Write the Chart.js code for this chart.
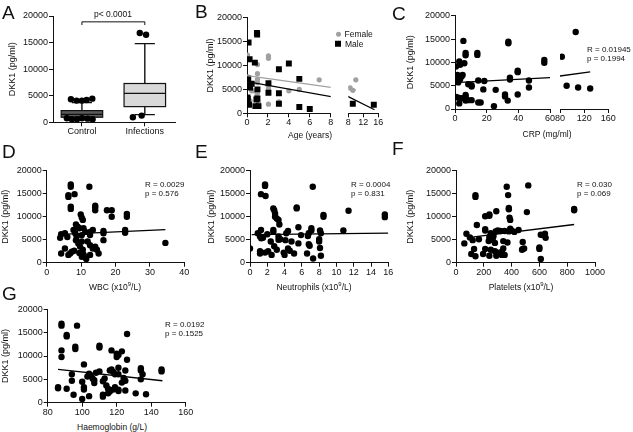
<!DOCTYPE html>
<html>
<head>
<meta charset="utf-8">
<script src="https://cdn.jsdelivr.net/npm/chart.js@4.4.1/dist/chart.umd.min.js"></script>
<style>
  body { margin: 0; background: #fff; width: 633px; height: 432px; position: relative; overflow: hidden;
         font-family: "Liberation Sans", Arial, Helvetica, sans-serif; color: #111; }
  canvas { position: absolute; }
  .t { position: absolute; white-space: nowrap; line-height: 1; z-index: 2; color: #111; }
  .t sup { font-size: 70%; line-height: 0; }
  .mk { display: inline-block; vertical-align: middle; margin-right: 4px; }
</style>
</head>
<body>
<script>
// ---- A: DKK1 by group (box plot)
const aCategories = ['Control', 'Infections'];
const aQ1 = [950, 2950];
const aMedian = [1500, 5450];
const aQ3 = [2200, 7300];
const aWhiskerLow = [450, 1450];
const aWhiskerHigh = [3700, 14800];
const aOutlierX = [0.825, 0.915, 1.0, 1.075, 1.165, 0.76, 0.84, 0.92, 1.0, 1.09, 1.17, 1.92, 2.02, 1.81, 1.95];
const aOutlierY = [4330, 4080, 4080, 4200, 4450, 750, 560, 560, 750, 690, 560, 16800, 16480, 940, 1260];
const aBracketY = [18300, 18900];
const aPValue = 'p< 0.0001';

// ---- B: age (years) vs DKK1
const bFemaleAge = [0.05, 2.05, 2.05, 1.0, 1.0, 0.1, 1.0, 6.9, 1.0, 2.05, 5.0, 0.45, 0.7, 4.0, 1.0, 0.9, 0.05, 2.05, 3.05, 0.3, 1.1, 10, 9.2, 8.5];
const bFemaleDkk = [12200, 12000, 11500, 10200, 8300, 7600, 7100, 7000, 6400, 5200, 5000, 4700, 4700, 4700, 4200, 3500, 3000, 1900, 2400, 2600, 2200, 7000, 4800, 5300];
const bMaleAge = [0.15, 0.95, 0.97, 0.25, 0.75, 4.0, 3.05, 5.0, 0.12, 0.1, 0.45, 0.02, 2.05, 0.3, 1.0, 2.05, 3.05, 0.05, 0.07, 0.9, 1.0, 0.2, 0.8, 1.1, 3.05, 5.0, 6.0, 9.2, 14.8];
const bMaleDkk = [14800, 16800, 16500, 11300, 10600, 10400, 9200, 7200, 7300, 6400, 6200, 5900, 6300, 5400, 5000, 4300, 4200, 3300, 3000, 2900, 3100, 1800, 1500, 1500, 2000, 1300, 900, 2000, 1800];
const bFemaleFit = [[0, 7870], [10, 4830]];
const bMaleFit = [[0, 6620], [15, 740]];

// ---- C: CRP vs DKK1
const crpPoints = [[5.3, 14600], [33.7, 14400], [33.7, 14100], [14.1, 12000], [14.1, 11600], [6.7, 12000], [6.7, 11500],
  [2.7, 10200], [3.2, 9500], [0.6, 9100], [5.9, 9800], [56.4, 10500], [56.4, 9900], [39.6, 8200], [39.6, 7900],
  [1, 7000], [1.7, 6600], [0.5, 6300], [3.2, 6400], [4.2, 7000], [4.8, 7300], [2.5, 7100], [1.5, 7300], [0.3, 5900], [2, 5700],
  [34.7, 6700], [34.7, 6300], [14.7, 6100], [18.5, 6000], [46.7, 6100], [8.4, 5300], [10.5, 5100], [10.5, 4800],
  [17.9, 4200], [25.7, 4100], [46.7, 4600], [31.6, 3100], [31.6, 2700], [39.6, 3100], [6.7, 3000], [6.7, 2600],
  [0.6, 2600], [2.1, 2400], [4.2, 2300], [8.4, 1900], [10.5, 1900], [14.7, 1400], [16.2, 1400], [2.7, 1200],
  [6.7, 1800], [33.3, 1800], [24.6, 600],
  [83, 11200], [106, 16500], [91, 5000], [110, 4600], [130, 4400]];
const crpFit = [[0, 5640], [130, 7960]];
const crpStats = ['R = 0.01945', 'p = 0.1994'];

// ---- D: WBC vs DKK1
const wbcPoints = [[7, 17000], [7, 16500], [6.3, 14700], [6.3, 14300], [8.1, 14900], [12.4, 16500], [7, 12200], [7, 11700],
  [14.1, 12400], [14.1, 12000], [14.1, 11400], [17.5, 11400], [18.9, 11400], [18.9, 10000], [23.3, 10600], [23.3, 10000],
  [9.9, 10500], [10.2, 9800], [10.5, 9300], [8.5, 8300], [9, 7800], [9.5, 7500], [5.3, 6400], [4.2, 6200], [3.9, 5400],
  [7.8, 7100], [8.3, 6400], [10.7, 7500], [11.2, 6700], [10.2, 6000], [8.7, 5700], [12.6, 6700], [12.6, 6000], [13.4, 7100],
  [16.5, 6900], [16.5, 6400], [22.8, 7100], [22.8, 6500], [34.5, 4300], [5.3, 3100], [4.2, 2000], [6.3, 1700], [6.8, 2000],
  [7.3, 2400], [8.5, 4900], [9.2, 4200], [9.7, 3500], [10.2, 4600], [10.5, 2800], [10.7, 1800], [11.2, 1200], [10.2, 1300],
  [12.6, 1700], [13.4, 3100], [14.1, 3500], [14.6, 2800], [15.1, 2000], [16.5, 4900], [12.6, 3800], [11.9, 4600],
  [9.5, 2100], [8, 2600], [11.5, 800], [6, 5600]];
const wbcFit = [[4.2, 6150], [34.5, 7200]];
const wbcStats = ['R = 0.0029', 'p = 0.576'];

// ---- E: neutrophils vs DKK1
const neutPoints = [[1.74, 17000], [1.74, 16700], [1.27, 14900], [1.8, 14500], [7.26, 16500], [2.7, 11800], [2.8, 11400],
  [2.9, 10700], [5.4, 12000], [5.4, 11800], [2.9, 10000], [3.1, 9600], [3.3, 9300], [3.4, 8300], [8.5, 10400], [8.5, 10000],
  [11.4, 11300], [15.6, 10500], [15.6, 9900], [10.8, 7000], [7.1, 7500], [7.1, 7000], [5.6, 7700], [1.27, 7100], [0.9, 6400],
  [2.7, 7100], [2.7, 6700], [4.4, 6900], [4.2, 6400], [8.1, 7000], [8.2, 6400], [6.7, 5800], [6.8, 6400], [5.9, 6000],
  [1.16, 5700], [1.5, 5400], [2.0, 6200], [3.3, 5700], [3.5, 5100], [4.1, 4900], [4.8, 4600], [2.4, 4600], [0, 3100],
  [2.8, 3600], [5.6, 4200], [8.0, 5100], [8.0, 4600], [6.8, 4000], [1.16, 2500], [1.16, 2000], [1.74, 2200], [2.1, 2500],
  [2.5, 1700], [3.1, 2800], [3.9, 2200], [4.0, 1700], [4.4, 3100], [5.1, 2000], [6.6, 2000], [6.9, 3700], [8.1, 3200],
  [8.2, 1500], [7.3, 900], [3.3, 5000], [4.6, 2600], [1.3, 5300]];
const neutFit = [[0.2, 6100], [16, 6450]];
const neutStats = ['R = 0.0004', 'p = 0.831'];

// ---- F: platelets vs DKK1
const pltPoints = [[140, 14700], [140, 14300], [365, 16500], [520, 16800], [375, 14700], [380, 11900], [380, 11600],
  [850, 11700], [850, 11400], [510, 11000], [290, 11200], [210, 10100], [240, 10200], [240, 10500], [385, 9800], [390, 9300],
  [150, 8200], [210, 7300], [210, 7000], [75, 6300], [100, 5500], [120, 4900], [60, 4200], [165, 5100], [250, 6400],
  [260, 6000], [245, 5700], [265, 5300], [240, 5500], [270, 5800], [255, 5000], [235, 4700], [280, 4300], [300, 7000],
  [320, 6900], [285, 6800], [350, 6900], [390, 7400], [400, 7000], [420, 6700], [380, 6800], [450, 7100], [340, 4700],
  [370, 4400], [130, 3000], [110, 1900], [140, 1400], [195, 1900], [210, 3000], [250, 2800], [240, 1500], [280, 2500],
  [300, 2200], [290, 1500], [330, 2400], [330, 1700], [350, 1700], [340, 3100], [480, 4500], [475, 2800], [490, 3100],
  [480, 3000], [600, 3300], [600, 3000], [610, 800], [610, 6100], [640, 6300], [645, 5400], [620, 6000]];
const pltFit = [[100, 5500], [850, 8300]];
const pltStats = ['R = 0.030', 'p = 0.069'];

// ---- G: haemoglobin vs DKK1
const hbPoints = [[88, 16900], [88, 16500], [97, 16500], [91, 14500], [91, 14200], [96, 12000], [96, 11500], [88, 11200],
  [88, 9800], [110, 12200], [110, 11800], [126, 14700], [117, 11200], [120, 10500], [121, 10200], [120, 9800], [123, 11000],
  [126, 9200], [101, 8200], [94, 6100], [94, 4700], [86, 3300], [86, 3100], [91, 3000], [95, 1700], [100, 4500], [101, 3300],
  [101, 2800], [100, 800], [104, 1400], [104, 6200], [105, 5700], [106, 5200], [107, 4800], [107, 4200], [103, 5600],
  [108, 6400], [110, 6700], [112, 4600], [113, 5200], [114, 3700], [115, 3000], [112, 1700], [112, 1300], [116, 2400],
  [115, 2000], [117, 7100], [118, 6600], [119, 6100], [116, 6900], [121, 7500], [118, 2800], [119, 3300], [121, 2800],
  [121, 2500], [124, 5300], [123, 4300], [125, 4700], [125, 6900], [125, 2600], [121, 6100], [131, 2000], [137, 1800],
  [134, 7400], [134, 6900], [134, 5000], [135, 6100], [146, 7100], [146, 6700]];
const hbFit = [[86, 7150], [146.5, 4700]];
const hbStats = ['R = 0.0192', 'p = 0.1525'];

const yTitle = 'DKK1 (pg/ml)';

// ---- layout (page px): plot area [left, top, right, bottom] and y-axis band width
const FRAMES = {
  A:  { plot: [53, 16, 175, 122.3], yw: 45.7 },
  B:  { plot: [247, 17.7, 330.7, 113.3], yw: 41.9 },
  B2: { plot: [348.3, 17.7, 378.3, 113.3], yw: 0 },
  C:  { plot: [455, 15.7, 550, 109], yw: 50.4 },
  C2: { plot: [560, 15.7, 608.3, 109], yw: 0 },
  D:  { plot: [46.7, 170.7, 184.3, 262.7], yw: 46.4 },
  E:  { plot: [250, 170.7, 388.3, 262.7], yw: 44.4 },
  F:  { plot: [456, 170.7, 595, 262.7], yw: 51.4 },
  G:  { plot: [47.7, 309.3, 185.7, 402.7], yw: 48.1 },
};
const PAD_L = 8, PAD_T = 8, PAD_R = 14, PAD_B = 2, X_AXIS_H = 16;
const INK = '#111';
const FEMALE = '#a0a0a0';

Chart.defaults.font.family = '"Liberation Sans", Arial, Helvetica, sans-serif';
Chart.defaults.font.size = 9;
Chart.defaults.color = INK;

function frame(spec) {
  const [l, t, r, b] = spec.plot;
  const left = Math.round(l - spec.yw - PAD_L);
  const top = Math.round(t - PAD_T);
  const width = Math.ceil(r - left + PAD_R);
  const height = Math.ceil(b - top + X_AXIS_H + PAD_B);
  const padLeft = spec.yw ? PAD_L : l - left;
  return {
    left, top, width, height,
    yw: l - left - padLeft,
    xh: height - PAD_B - (b - top),
    padding: { left: padLeft, top: t - top, right: width - (r - left), bottom: PAD_B },
  };
}

const plain = (v) => String(v);

function yAxis(f, show = true) {
  return {
    type: 'linear', min: 0, max: 20000, display: show,
    ticks: { stepSize: 5000, padding: 1, color: INK, callback: plain },
    grid: { drawOnChartArea: false, tickLength: 4, color: INK },
    border: { color: INK, width: 1 },
    title: { display: true, text: yTitle, padding: 0, color: INK },
    afterFit: (s) => { s.width = f.yw; },
  };
}

function xAxis(f, min, max, step) {
  return {
    type: 'linear', min, max,
    ticks: { stepSize: step, padding: 0, maxRotation: 0, autoSkip: false, color: INK, callback: plain },
    grid: { drawOnChartArea: false, tickLength: 4, color: INK },
    border: { color: INK, width: 1 },
    afterFit: (s) => { s.height = f.xh; },
  };
}

const pts = (arr) => arr.map(([x, y]) => ({ x, y }));
const within = (arr, lo, hi) => arr.filter(([x]) => x >= lo && x <= hi);
const zip = (xs, ys) => xs.map((x, i) => [x, ys[i]]);

function dots(arr, color = '#000', style = 'circle', r = 3.2) {
  return { data: pts(arr), showLine: false, pointStyle: style, pointRadius: r, pointHoverRadius: r,
           pointBackgroundColor: color, pointBorderWidth: 0 };
}
function fitLine(arr, color = '#000') {
  return { data: pts(arr), showLine: true, borderColor: color, borderWidth: 1.3,
           pointRadius: 0, pointHoverRadius: 0, fill: false };
}

function plot(spec, scales, datasets, plugins = []) {
  const f = frame(spec);
  const canvas = document.createElement('canvas');
  canvas.width = f.width;
  canvas.height = f.height;
  Object.assign(canvas.style, { left: f.left + 'px', top: f.top + 'px', width: f.width + 'px', height: f.height + 'px' });
  document.body.appendChild(canvas);
  return new Chart(canvas, {
    type: 'scatter',
    data: { datasets },
    options: {
      responsive: false, animation: false, devicePixelRatio: 1, events: [],
      layout: { padding: f.padding },
      plugins: { legend: { display: false }, tooltip: { enabled: false } },
      scales: scales(f),
    },
    plugins,
  });
}

function addText(html, x, y, size, center = false) {
  const d = document.createElement('div');
  d.className = 't';
  d.innerHTML = html;
  d.style.left = x + 'px';
  d.style.top = y + 'px';
  d.style.fontSize = size + 'px';
  d.style.transform = center ? 'translate(-50%, -50%)' : 'translateY(-50%)';
  document.body.appendChild(d);
}

// box plot drawn through the chart's own scales
const BOX_HALF = 0.33, CAP_HALF = 0.16;
const BOX_FILL = ['#5a5a5a', '#d9d9d9'];
const boxPlot = {
  id: 'boxPlot',
  beforeDatasetsDraw(chart) {
    const { ctx, scales: { x, y } } = chart;
    ctx.save();
    ctx.strokeStyle = INK;
    aCategories.forEach((name, i) => {
      const cx = x.getPixelForValue(i + 1);
      const half = x.getPixelForValue(i + 1 + BOX_HALF) - cx;
      const cap = x.getPixelForValue(i + 1 + CAP_HALF) - cx;
      const q1 = y.getPixelForValue(aQ1[i]), q3 = y.getPixelForValue(aQ3[i]);
      const lo = y.getPixelForValue(aWhiskerLow[i]), hi = y.getPixelForValue(aWhiskerHigh[i]);
      const med = y.getPixelForValue(aMedian[i]);
      ctx.lineWidth = 1.4;
      ctx.beginPath();
      ctx.moveTo(cx, hi); ctx.lineTo(cx, q3);
      ctx.moveTo(cx, q1); ctx.lineTo(cx, lo);
      ctx.moveTo(cx - cap, hi); ctx.lineTo(cx + cap, hi);
      ctx.moveTo(cx - cap, lo); ctx.lineTo(cx + cap, lo);
      ctx.stroke();
      ctx.fillStyle = BOX_FILL[i];
      ctx.fillRect(cx - half, q3, 2 * half, q1 - q3);
      ctx.lineWidth = 1.2;
      ctx.strokeRect(cx - half, q3, 2 * half, q1 - q3);
      ctx.beginPath();
      ctx.moveTo(cx - half, med); ctx.lineTo(cx + half, med);
      ctx.stroke();
    });
    ctx.restore();
  },
  afterDraw(chart) {
    const { ctx, scales: { x, y } } = chart;
    const x1 = x.getPixelForValue(1), x2 = x.getPixelForValue(2);
    const foot = y.getPixelForValue(aBracketY[0]), bar = y.getPixelForValue(aBracketY[1]);
    ctx.save();
    ctx.strokeStyle = INK;
    ctx.lineWidth = 1;
    ctx.beginPath();
    ctx.moveTo(x1, foot); ctx.lineTo(x1, bar); ctx.lineTo(x2, bar); ctx.lineTo(x2, foot);
    ctx.stroke();
    ctx.restore();
  },
};

// A
plot(FRAMES.A, (f) => ({
  x: Object.assign(xAxis(f, 0.54, 2.48, 1), {
    afterBuildTicks: (s) => { s.ticks = aCategories.map((c, i) => ({ value: i + 1 })); },
    ticks: { padding: 0, maxRotation: 0, autoSkip: false, color: INK, callback: (v, i) => aCategories[i] },
  }),
  y: yAxis(f),
}), [dots(zip(aOutlierX, aOutlierY))], [boxPlot]);

// B (broken age axis)
const bFemale = zip(bFemaleAge, bFemaleDkk), bMale = zip(bMaleAge, bMaleDkk);
const bSets = (lo, hi) => [fitLine(bMaleFit), fitLine(bFemaleFit, FEMALE),
  dots(within(bMale, lo, hi), '#000', 'rect', 4.2), dots(within(bFemale, lo, hi), FEMALE, 'circle', 2.6)];
plot(FRAMES.B, (f) => ({ x: xAxis(f, 0, 8, 2), y: yAxis(f) }), bSets(0, 8));
plot(FRAMES.B2, (f) => ({ x: xAxis(f, 8, 16, 4), y: yAxis(f, false) }), bSets(8, 16));

// C (broken CRP axis)
const cSets = (lo, hi) => [fitLine(crpFit), dots(within(crpPoints, lo, hi))];
plot(FRAMES.C, (f) => ({ x: xAxis(f, 0, 60, 20), y: yAxis(f) }), cSets(0, 60));
plot(FRAMES.C2, (f) => ({ x: xAxis(f, 80, 160, 40), y: yAxis(f, false) }), cSets(80, 160));

// D-G
plot(FRAMES.D, (f) => ({ x: xAxis(f, 0, 40, 10), y: yAxis(f) }), [fitLine(wbcFit), dots(wbcPoints)]);
plot(FRAMES.E, (f) => ({ x: xAxis(f, 0, 16, 2), y: yAxis(f) }), [fitLine(neutFit), dots(neutPoints)]);
plot(FRAMES.F, (f) => ({ x: xAxis(f, 0, 1000, 200), y: yAxis(f) }), [fitLine(pltFit), dots(pltPoints)]);
plot(FRAMES.G, (f) => ({ x: xAxis(f, 80, 160, 20), y: yAxis(f) }), [fitLine(hbFit), dots(hbPoints)]);

// text: panel letters, axis titles, stats, legend
[['A', 2, 12], ['B', 195, 11], ['C', 392, 13], ['D', 2, 151], ['E', 195, 151], ['F', 392, 148], ['G', 2, 293]]
  .forEach(([l, x, y]) => addText(l, x, y, 19));

addText(aPValue, 113, 14, 8.5, true);
addText('Age (years)', 310, 135, 8.5, true);
addText('CRP (mg/ml)', 547, 133.5, 8.5, true);
addText('WBC (x10<sup>9</sup>/L)', 115, 286.7, 8.5, true);
addText('Neutrophils (x10<sup>9</sup>/L)', 314, 286.7, 8.5, true);
addText('Platelets (x10<sup>9</sup>/L)', 521, 286.7, 8.5, true);
addText('Haemoglobin (g/L)', 112, 426.5, 8.5, true);

[[crpStats, 587, 50], [wbcStats, 145, 185], [neutStats, 351, 185], [pltStats, 577, 185], [hbStats, 165, 325]]
  .forEach(([s, x, y]) => { addText(s[0], x, y, 8); addText(s[1], x, y + 9.3, 8); });

addText('<span class="mk" style="width:5px;height:5px;border-radius:50%;background:' + FEMALE + '"></span>Female', 335.5, 33.5, 8.5);
addText('<span class="mk" style="width:6px;height:6px;background:#000"></span>Male', 335, 43.5, 8.5);
</script>
</body>
</html>
